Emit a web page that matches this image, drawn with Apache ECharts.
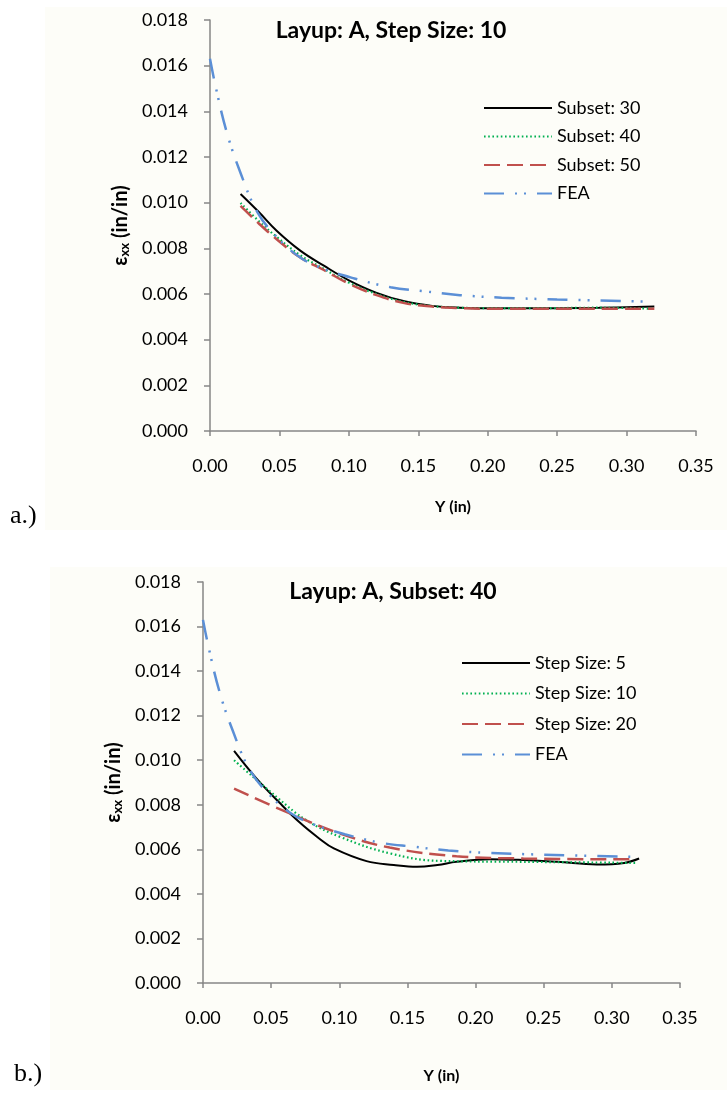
<!DOCTYPE html>
<html>
<head>
<meta charset="utf-8">
<script src="https://cdn.jsdelivr.net/npm/echarts@6/dist/echarts.min.js"></script>
<style>
html,body{margin:0;padding:0;background:#ffffff;}
#chart{width:727px;height:1096px;}
</style>
</head>
<body>
<div id="chart"></div>
<script>
// ---------- data ----------
const xTicks = [0, 0.05, 0.10, 0.15, 0.20, 0.25, 0.30, 0.35];
const yTicks = [0, 0.002, 0.004, 0.006, 0.008, 0.010, 0.012, 0.014, 0.016, 0.018];

const titleA = 'Layup: A, Step Size: 10';
const titleB = 'Layup: A, Subset: 40';
const namesA = ['Subset: 30', 'Subset: 40', 'Subset: 50', 'FEA'];
const namesB = ['Step Size: 5', 'Step Size: 10', 'Step Size: 20', 'FEA'];

// FEA (same in both panels)
const fea = [[0,0.0163],[0.004,0.0151],[0.012,0.0131],[0.022,0.0113],[0.034,0.0096],[0.048,0.0085],
  [0.065,0.0076],[0.082,0.0071],[0.104,0.00668],[0.13,0.0063],[0.154,0.00612],[0.18,0.00595],
  [0.21,0.00584],[0.25,0.00576],[0.3135,0.00567]];

// panel a
const subset30 = [[0.022,0.01038],[0.035,0.0096],[0.048,0.00877],[0.065,0.0079],[0.082,0.00724],
  [0.100,0.0066],[0.120,0.00605],[0.140,0.00568],[0.160,0.00548],[0.180,0.0054],[0.200,0.00538],
  [0.240,0.00538],[0.280,0.0054],[0.320,0.00545]];
const subset40 = [[0.022,0.00999],[0.035,0.0092],[0.048,0.0085],[0.065,0.0077],[0.082,0.0071],
  [0.100,0.0065],[0.120,0.0060],[0.140,0.00565],[0.160,0.00547],[0.180,0.0054],[0.200,0.00538],
  [0.240,0.00538],[0.280,0.0054],[0.320,0.00535]];
const subset50 = [[0.022,0.00986],[0.035,0.0091],[0.048,0.0084],[0.065,0.0076],[0.082,0.00705],
  [0.100,0.00645],[0.120,0.00595],[0.140,0.0056],[0.160,0.00545],[0.180,0.00538],[0.200,0.00535],
  [0.240,0.00535],[0.280,0.00535],[0.320,0.00535]];

// panel b
const step5 = [[0.0228,0.01042],[0.039,0.0092],[0.056,0.0081],[0.071,0.0072],[0.085,0.0065],
  [0.096,0.00604],[0.12,0.00547],[0.14,0.0053],[0.157,0.00522],[0.172,0.0053],[0.186,0.00544],
  [0.21,0.00556],[0.235,0.00552],[0.26,0.00544],[0.289,0.00532],[0.309,0.00539],[0.32,0.00559]];
const step10 = [[0.0228,0.0100],[0.054,0.00835],[0.076,0.0073],[0.1006,0.00656],[0.137,0.00582],
  [0.174,0.00548],[0.235,0.00544],[0.3186,0.00539]];
const step20 = [[0.0228,0.00873],[0.0637,0.00761],[0.1005,0.00671],[0.137,0.00608],[0.186,0.00569],
  [0.235,0.00559],[0.3137,0.00555]];

// ---------- styles ----------
const FONT = 'Lato';
const AXIS_COLOR = '#868686';
const styles = [
  {color:'#000000', width:2, type:'solid'},
  {color:'#00b050', width:2.2, type:[1.6,2.6]},
  {color:'#c0504d', width:2.5, type:[16,7]},
  {color:'#5b8fd6', width:2.5, type:[20,11,2,7,2,11]}
];

function mkX(gi, gap){
  return {
    type:'value', gridIndex:gi, min:0, max:0.35, interval:0.05,
    name:'Y (in)', nameLocation:'middle', nameGap:gap,
    nameTextStyle:{fontFamily:FONT, fontWeight:'bold', fontSize:16, color:'#000'},
    axisLine:{show:true, lineStyle:{color:AXIS_COLOR, width:1.5}},
    axisTick:{show:true, inside:false, length:5, lineStyle:{color:AXIS_COLOR, width:1.5}},
    axisLabel:{fontFamily:FONT, fontSize:18, color:'#000', margin:26,
      formatter:v=>v.toFixed(2)},
    splitLine:{show:false}
  };
}
function mkY(gi){
  return {
    type:'value', gridIndex:gi, min:0, max:0.018, interval:0.002,
    name:'{e|ε}{s|xx}{e| (in/in)}', nameLocation:'middle', nameGap:63, nameRotate:90,
    nameTextStyle:{fontFamily:FONT, fontWeight:'bold', color:'#000',
      rich:{
        e:{fontFamily:FONT, fontWeight:'bold', fontSize:20, color:'#000'},
        s:{fontFamily:FONT, fontWeight:'bold', fontSize:13, color:'#000', padding:[9,0,0,0]}
      }},
    axisLine:{show:true, onZero:false, lineStyle:{color:AXIS_COLOR, width:1.5}},
    axisTick:{show:true, inside:false, length:6, lineStyle:{color:AXIS_COLOR, width:1.5}},
    axisLabel:{fontFamily:FONT, fontSize:18, color:'#000', margin:22,
      formatter:v=>v.toFixed(3)},
    splitLine:{show:false}
  };
}
function mkSeries(name, data, st, gi){
  return {
    name:name, type:'line', xAxisIndex:gi, yAxisIndex:gi, data:data,
    smooth:0.4, showSymbol:false, symbol:'none',
    lineStyle:{color:st.color, width:st.width, type:st.type},
    itemStyle:{color:st.color},
    z: 2
  };
}

const seriesA = [subset30, subset40, subset50, fea];
const seriesB = [step5, step10, step20, fea];
const legendB = namesB.map(n => n === 'FEA' ? 'FEA ' : n);
const series = [];
namesA.forEach((n,i)=>series.push(mkSeries(n, seriesA[i], styles[i], 0)));
legendB.forEach((n,i)=>series.push(mkSeries(n, seriesB[i], styles[i], 1)));

const chart = echarts.init(document.getElementById('chart'), null, {renderer:'canvas'});
chart.setOption({
  animation:false,
  backgroundColor:'#ffffff',
  graphic:[
    {type:'rect', z:-10, shape:{x:45, y:7, width:682, height:523}, style:{fill:'#fdfdf8'}, silent:true},
    {type:'rect', z:-10, shape:{x:50, y:567, width:677, height:523}, style:{fill:'#fdfdf8'}, silent:true},
    {type:'text', left:10, top:503, style:{text:'a.)', font:'26px "Liberation Serif"', fill:'#000'}},
    {type:'text', left:14, top:1061, style:{text:'b.)', font:'26px "Liberation Serif"', fill:'#000'}}
  ],
  title:[
    {text:titleA, left:386, top:14, textAlign:'center',
      textStyle:{fontFamily:FONT, fontWeight:'bold', fontSize:23, color:'#000'}},
    {text:titleB, left:388, top:575, textAlign:'center',
      textStyle:{fontFamily:FONT, fontWeight:'bold', fontSize:23, color:'#000'}}
  ],
  legend:[
    {data:namesA, left:478, top:94, orient:'vertical', itemWidth:68, itemHeight:14, itemGap:10.5,
      itemStyle:{opacity:0, borderWidth:0},
      textStyle:{fontFamily:FONT, fontSize:18, color:'#000'}},
    {data:legendB, left:456, top:649, orient:'vertical', itemWidth:68, itemHeight:14, itemGap:12.5,
      itemStyle:{opacity:0, borderWidth:0},
      textStyle:{fontFamily:FONT, fontSize:18, color:'#000'}}
  ],
  grid:[
    {left:210, top:20, width:486, height:411, containLabel:false},
    {left:203, top:582, width:477, height:401, containLabel:false}
  ],
  xAxis:[mkX(0,68), mkX(1,85)],
  yAxis:[mkY(0), mkY(1)],
  series:series
});
</script>
</body>
</html>
